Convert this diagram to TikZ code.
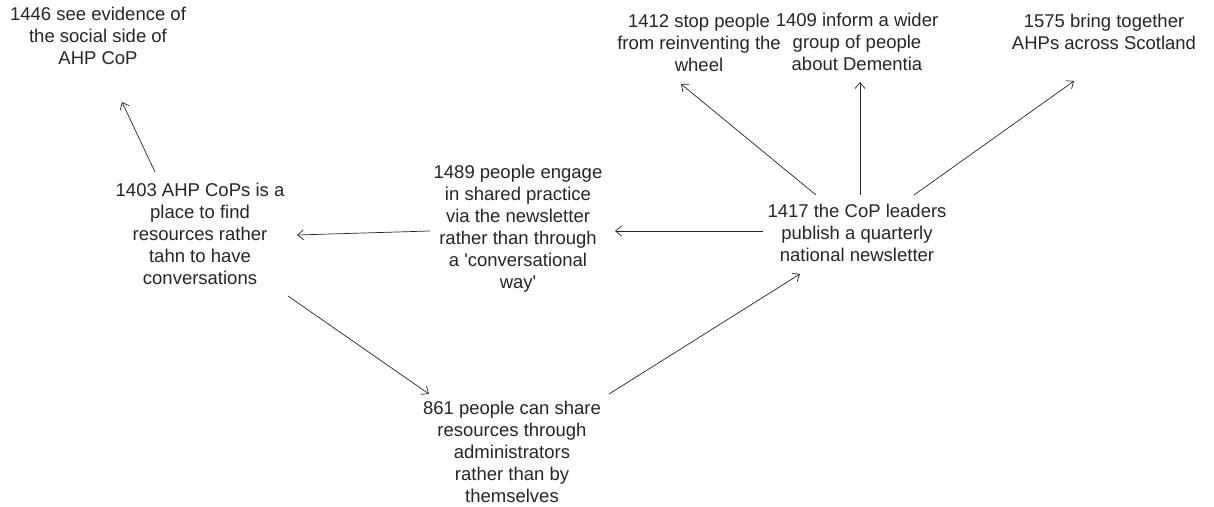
\documentclass[tikz,border=0pt]{standalone}
\usepackage{fontspec}
\setmainfont{Liberation Sans}
\usetikzlibrary{arrows.meta}
\tikzset{
  txt/.style={font=\fontsize{18.5}{22}\selectfont, align=center, inner sep=0pt, text=black!85},
  arr/.style={draw=black!85, line width=0.7pt, -{Straight Barb[length=6pt,width=10pt]}}
}
\begin{document}
\begin{tikzpicture}[x=1pt,y=-1pt]
\useasboundingbox[fill=white] (0,0) rectangle (1214,506);
\node[txt] (n1446) at (98,36) {1446 see evidence of\\the social side of\\AHP CoP};
\node[txt] (n1403) at (200,234) {1403 AHP CoPs is a\\place to find\\resources rather\\tahn to have\\conversations};
\node[txt] (n1489) at (518,229) {1489 people engage\\in shared practice\\via the newsletter\\rather than through\\a \textquotesingle conversational\\way\textquotesingle};
\node[txt] (n1417) at (857,233) {1417 the CoP leaders\\publish a quarterly\\national newsletter};
\node[txt] (n861) at (512,452) {861 people can share\\resources through\\administrators\\rather than by\\themselves};
\node[txt] (n1412) at (699,43) {1412 stop people\\from reinventing the\\wheel};
\node[txt] (n1409) at (857,42) {1409 inform a wider\\group of people\\about Dementia};
\node[txt] (n1575) at (1104,32) {1575 bring together\\AHPs across Scotland};

\draw[arr] ([shift={(-45,-62)}]n1403.center) -- ([shift={(24,66)}]n1446.center);
\draw[arr] ([shift={(-88,2)}]n1489.center) -- ([shift={(97,1)}]n1403.center);
\draw[arr] ([shift={(-94,-2)}]n1417.center) -- ([shift={(97,2)}]n1489.center);
\draw[arr] ([shift={(88,62)}]n1403.center) -- ([shift={(-83,-58)}]n861.center);
\draw[arr] ([shift={(97,-58)}]n861.center) -- ([shift={(-57,41)}]n1417.center);
\draw[arr] ([shift={(-41,-38)}]n1417.center) -- ([shift={(-18,41)}]n1412.center);
\draw[arr] ([shift={(3,-38)}]n1417.center) -- ([shift={(3,40)}]n1409.center);
\draw[arr] ([shift={(57,-38)}]n1417.center) -- ([shift={(-30,49)}]n1575.center);
\end{tikzpicture}
\end{document}
